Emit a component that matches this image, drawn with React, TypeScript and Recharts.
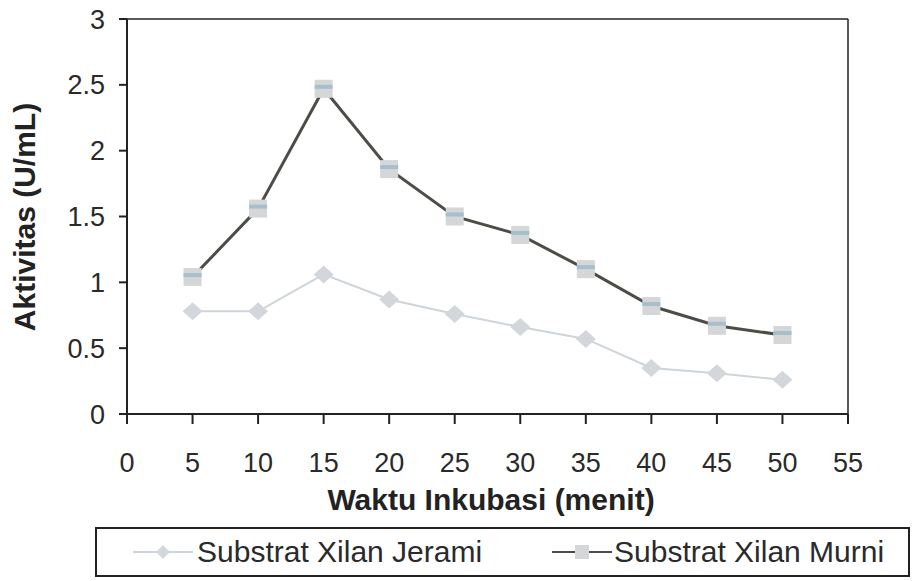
import React from 'react';
import { LineChart, Line, XAxis, YAxis, ReferenceLine } from 'recharts';

const minutes = [5, 10, 15, 20, 25, 30, 35, 40, 45, 50];
const jerami = [0.78, 0.78, 1.06, 0.87, 0.76, 0.66, 0.57, 0.35, 0.31, 0.26];
const murni = [1.04, 1.56, 2.47, 1.86, 1.5, 1.36, 1.1, 0.82, 0.67, 0.6];
const xTicks = [0, 5, 10, 15, 20, 25, 30, 35, 40, 45, 50, 55];
const yTicks = [0, 0.5, 1, 1.5, 2, 2.5, 3];

const data = minutes.map((m, i) => ({ minute: m, jerami: jerami[i], murni: murni[i] }));

const FONT = '"Liberation Sans", Arial, sans-serif';

const SquareDot = (props: any) => {
  const { cx, cy, index } = props;
  return (
    <g key={`sq-${index}`}>
      <rect x={cx - 9} y={cy - 9} width={18} height={18} fill="#d4d6d8" />
      <rect x={cx - 9} y={cy - 4} width={18} height={4} fill="#a7bfcc" />
    </g>
  );
};

const DiamondDot = (props: any) => {
  const { cx, cy, index } = props;
  return (
    <path
      key={`dm-${index}`}
      d={`M${cx},${cy - 9} L${cx + 10},${cy} L${cx},${cy + 9} L${cx - 10},${cy} Z`}
      fill="#d3d7db"
    />
  );
};

export default function App() {
  return (
    <div style={{ position: 'absolute', left: 0, top: 0, width: 916, height: 581, background: '#fff', fontFamily: FONT }}>
      <LineChart width={916} height={581} data={data} margin={{ top: 19, right: 68, bottom: 137, left: 0 }}>
        <XAxis
          dataKey="minute"
          type="number"
          domain={[0, 55]}
          ticks={xTicks}
          interval={0}
          stroke="#222"
          strokeWidth={2}
          tickSize={10}
          tick={{ fill: '#2a2a2a', fontSize: 27, fontFamily: FONT, dy: 27 }}
        />
        <YAxis
          type="number"
          domain={[0, 3]}
          ticks={yTicks}
          width={127}
          stroke="#222"
          strokeWidth={2}
          tickSize={8}
          tick={{ fill: '#2a2a2a', fontSize: 27, fontFamily: FONT, dx: -12 }}
          tickFormatter={(v: number) => String(v)}
        />
        <ReferenceLine y={3} stroke="#222" strokeWidth={1.5} />
        <ReferenceLine x={55} stroke="#222" strokeWidth={1.5} />
        <Line
          dataKey="jerami"
          stroke="#cdd4da"
          strokeWidth={2}
          dot={DiamondDot}
          activeDot={false}
          isAnimationActive={false}
        />
        <Line
          dataKey="murni"
          stroke="#4d4d48"
          strokeWidth={3}
          dot={SquareDot}
          activeDot={false}
          isAnimationActive={false}
        />
        <text x={24} y={217} transform="rotate(-90 24 217)" textAnchor="middle" dominantBaseline="central"
          style={{ fontSize: 30, fontWeight: 'bold', fill: '#222', fontFamily: FONT }}>
          Aktivitas (U/mL)
        </text>
        <text x={491} y={499} textAnchor="middle" dominantBaseline="central"
          style={{ fontSize: 30, fontWeight: 'bold', fill: '#222', fontFamily: FONT }}>
          Waktu Inkubasi (menit)
        </text>
      </LineChart>
      <div style={{ position: 'absolute', left: 95, top: 527, width: 815, height: 50, border: '2px solid #222', boxSizing: 'border-box', fontSize: 30, color: '#2a2a2a' }}>
        <svg width={60} height={20} style={{ position: 'absolute', left: 36, top: 13 }}>
          <line x1={0} y1={10} x2={60} y2={10} stroke="#cdd4da" strokeWidth={2} />
          <path d="M30,3 L37,10 L30,17 L23,10 Z" fill="#d3d7db" />
        </svg>
        <span style={{ position: 'absolute', left: 100, top: 6, lineHeight: '34px', whiteSpace: 'nowrap' }}>Substrat Xilan Jerami</span>
        <svg width={60} height={20} style={{ position: 'absolute', left: 455, top: 13 }}>
          <line x1={0} y1={10} x2={60} y2={10} stroke="#4d4d48" strokeWidth={2} />
          <rect x={23} y={3} width={14} height={14} fill="#d4d6d8" />
        </svg>
        <span style={{ position: 'absolute', left: 517, top: 6, lineHeight: '34px', whiteSpace: 'nowrap' }}>Substrat Xilan Murni</span>
      </div>
    </div>
  );
}
